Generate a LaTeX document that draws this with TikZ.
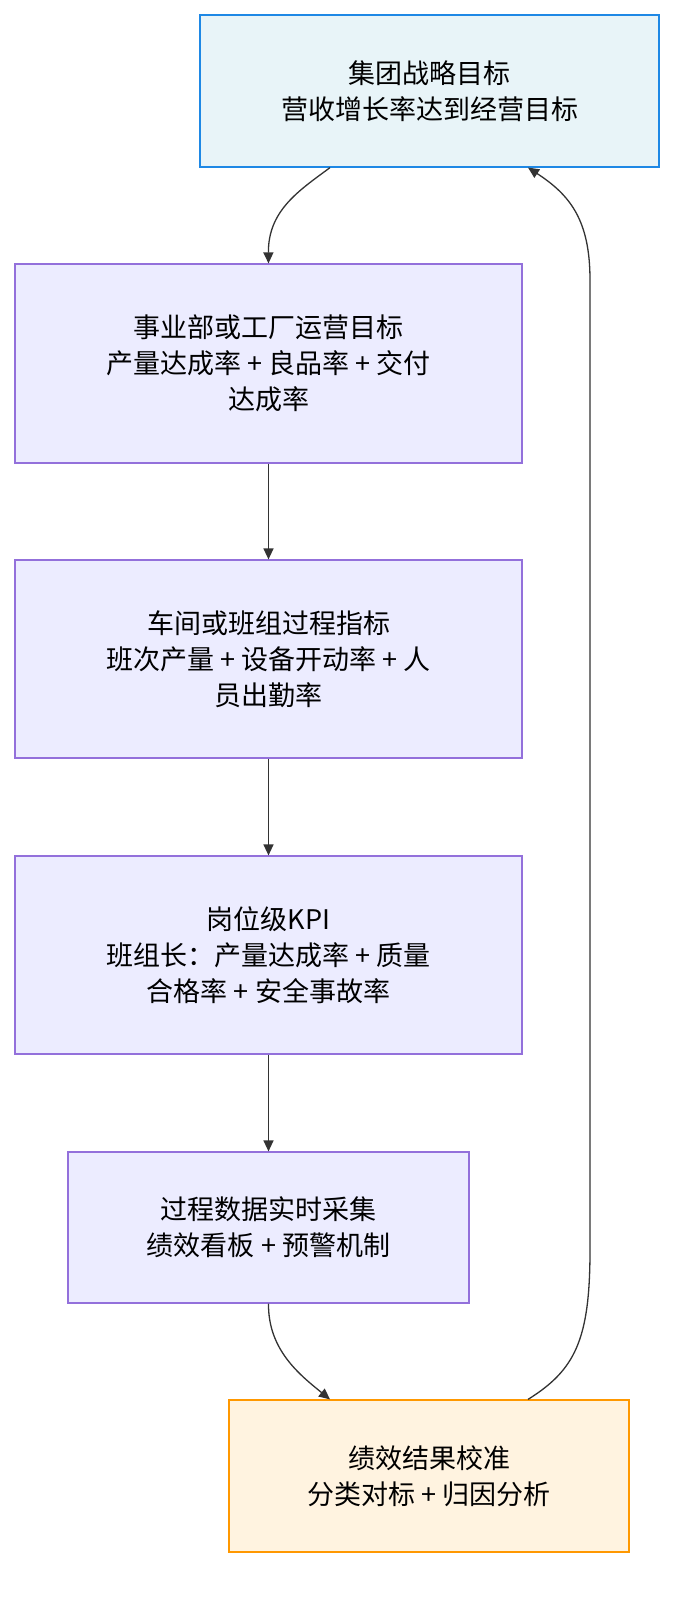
\documentclass[tikz,border=0pt]{standalone}
\usepackage{fontspec}
\setmainfont{Noto Sans CJK SC}
\usetikzlibrary{arrows.meta}
\definecolor{goalfill}{HTML}{E8F4F8}
\definecolor{goalline}{HTML}{1E88E5}
\definecolor{stepfill}{HTML}{ECECFF}
\definecolor{stepline}{HTML}{9370DB}
\definecolor{calfill}{HTML}{FFF3E0}
\definecolor{calline}{HTML}{FF9800}
\tikzset{
  every picture/.style={font={\fontsize{27}{36}\selectfont}, >={Triangle[length=11pt,width=10pt]}},
  levelbox/.style={draw=stepline, fill=stepfill, line width=1.2pt, align=center, inner sep=0pt},
  goalbox/.style={levelbox, draw=goalline, fill=goalfill},
  calbox/.style={levelbox, draw=calline, fill=calfill},
  link/.style={->, draw=black!80, line width=1.3pt}}

\begin{document}
\begin{tikzpicture}[x=1pt, y=-1pt]
  \useasboundingbox (0,0) rectangle (693,1612);

  \node[goalbox, minimum width=459pt, minimum height=152pt] (goal) at (429.5,91)
    {集团战略目标\\营收增长率达到经营目标};
  \node[levelbox, minimum width=507pt, minimum height=199pt] (plant) at (268.5,363.5)
    {事业部或工厂运营目标\\产量达成率 + 良品率 + 交付\\达成率};
  \node[levelbox, minimum width=507pt, minimum height=198pt] (shop) at (268.5,659)
    {车间或班组过程指标\\班次产量 + 设备开动率 + 人\\员出勤率};
  \node[levelbox, minimum width=507pt, minimum height=198pt] (post) at (268.5,955)
    {岗位级KPI\\班组长：产量达成率 + 质量\\合格率 + 安全事故率};
  \node[levelbox, minimum width=401pt, minimum height=151pt] (data) at (268.5,1227.5)
    {过程数据实时采集\\绩效看板 + 预警机制};
  \node[calbox, minimum width=400pt, minimum height=152pt] (calib) at (429,1476)
    {绩效结果校准\\分类对标 + 归因分析};

  \draw[link] (goal.south -| 330,0) .. controls (300,190) and (268,210) .. (plant.north);
  \draw[link] (plant) -- (shop);
  \draw[link] (shop) -- (post);
  \draw[link] (post) -- (data);
  \draw[link] (data.south) .. controls (268,1350) and (300,1375) .. (calib.north -| 330,0);
  \draw[link] (calib.north -| 528,0) .. controls (575,1370) and (590,1340) .. (590,1250)
    -- (590,280) .. controls (590,220) and (570,195) .. (goal.south -| 528,0);
\end{tikzpicture}
\end{document}
